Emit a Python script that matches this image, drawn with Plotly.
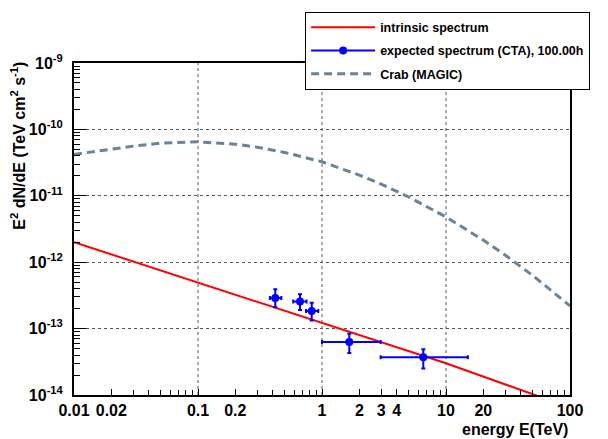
import plotly.graph_objects as go

# ---- data ----
intr_E = [0.01, 0.1, 1.0, 10.0, 100.0]
intr_F = [2.0e-12, 4.9e-13, 1.23e-13, 3.0e-14, 6.5e-15]

crab_E = [0.01, 0.02, 0.03, 0.05, 0.1, 0.2, 0.3, 0.5, 1, 2, 3, 5, 10, 20, 30, 50, 100]
crab_F = [4.2e-11, 5.0e-11, 5.6e-11, 6.2e-11, 6.5e-11, 6.0e-11, 5.4e-11, 4.5e-11,
          3.25e-11, 2.05e-11, 1.5e-11, 9.6e-12, 4.8e-12, 2.15e-12, 1.28e-12, 6.3e-13, 2.2e-13]

cta_E = [0.42, 0.665, 0.826, 1.66, 6.56]
cta_F = [2.9e-13, 2.57e-13, 1.84e-13, 6.3e-14, 3.7e-14]
cta_E_lo = [0.38, 0.586, 0.743, 1.0, 2.97]
cta_E_hi = [0.47, 0.751, 0.933, 2.97, 15.0]
cta_F_lo = [2.1e-13, 1.9e-13, 1.32e-13, 4.3e-14, 2.5e-14]
cta_F_hi = [3.9e-13, 3.3e-13, 2.45e-13, 8.4e-14, 4.9e-14]

x_tickvals = [0.01, 0.02, 0.1, 0.2, 1, 2, 3, 4, 10, 20, 100]
x_ticktext = ["0.01", "0.02", "0.1", "0.2", "1", "2", "3", "4", "10", "20", "100"]
y_exps = [-9, -10, -11, -12, -13, -14]
grid_x = [0.1, 1, 10]

FONT = "Liberation Sans"
BLUE = "#0000ff"

fig = go.Figure()

fig.add_trace(go.Scatter(
    x=intr_E, y=intr_F, mode="lines", name="intrinsic spectrum",
    line=dict(color="red", width=2), legendgroup="a"))

fig.add_trace(go.Scatter(
    x=cta_E, y=cta_F, mode="markers", name="expected spectrum (CTA), 100.00h",
    marker=dict(color=BLUE, size=8), showlegend=False,
    error_x=dict(type="data", symmetric=False,
                 array=[h - v for h, v in zip(cta_E_hi, cta_E)],
                 arrayminus=[v - l for l, v in zip(cta_E_lo, cta_E)],
                 color=BLUE, thickness=2, width=2),
    error_y=dict(type="data", symmetric=False,
                 array=[h - v for h, v in zip(cta_F_hi, cta_F)],
                 arrayminus=[v - l for l, v in zip(cta_F_lo, cta_F)],
                 color=BLUE, thickness=2, width=2),
    legendgroup="b"))

# legend entry for the CTA points (line + marker symbol)
fig.add_trace(go.Scatter(
    x=[None], y=[None], mode="lines+markers", name="expected spectrum (CTA), 100.00h",
    marker=dict(color=BLUE, size=8), line=dict(color=BLUE, width=2), legendgroup="b"))

fig.add_trace(go.Scatter(
    x=crab_E, y=crab_F, mode="lines", name="Crab (MAGIC)",
    line=dict(color="#6a8398", width=3, dash="8px,5px"), legendgroup="c"))

for gx in grid_x:
    fig.add_shape(type="line", xref="x", yref="paper", x0=gx, x1=gx, y0=0, y1=1,
                  line=dict(color="#555555", width=1, dash="dot"), layer="below")

fig.update_layout(
    width=608, height=439,
    margin=dict(l=74, r=38, t=58, b=44),
    paper_bgcolor="white", plot_bgcolor="white",
    font=dict(family=FONT, color="black"),
    showlegend=True,
    legend=dict(x=0.466, y=1.155, xanchor="left", yanchor="top",
                bgcolor="white", bordercolor="black", borderwidth=1,
                font=dict(family=FONT, size=12.5, weight="bold"),
                itemwidth=64, tracegroupgap=4, traceorder="grouped"),
    xaxis=dict(type="log", range=[-2, 2], showgrid=False, zeroline=False,
               showline=True, linecolor="black", linewidth=2, mirror=True,
               ticks="inside", ticklen=6, tickcolor="black",
               tickvals=x_tickvals, ticktext=x_ticktext,
               tickfont=dict(family=FONT, size=16, weight="bold"),
               minor=dict(ticks="inside", ticklen=5, dtick="D1", tickcolor="black", showgrid=False)),
    yaxis=dict(type="log", range=[-14, -9], showgrid=True, griddash="dot",
               gridcolor="#555555", gridwidth=1, zeroline=False,
               showline=True, linecolor="black", linewidth=2, mirror=True,
               ticks="inside", ticklen=12, tickcolor="black",
               tickvals=[10.0 ** e for e in y_exps],
               ticktext=["10<sup>%d</sup>" % e for e in y_exps],
               ticklabelstandoff=6,
               tickfont=dict(family=FONT, size=16, weight="bold"),
               minor=dict(ticks="inside", ticklen=6, dtick="D1", tickcolor="black", showgrid=False)),
    annotations=[
        dict(text="energy E(TeV)", xref="paper", yref="paper", x=1, y=-0.072,
             xanchor="right", yanchor="top", showarrow=False,
             font=dict(family=FONT, size=16, weight="bold")),
        dict(text="E<sup>2</sup> dN/dE (TeV cm<sup>2</sup> s<sup>-1</sup>)",
             xref="paper", yref="paper", x=-0.113, y=1.01, xanchor="center", yanchor="top",
             textangle=-90, showarrow=False,
             font=dict(family=FONT, size=16, weight="bold")),
    ],
)

fig.write_html("out.html")
